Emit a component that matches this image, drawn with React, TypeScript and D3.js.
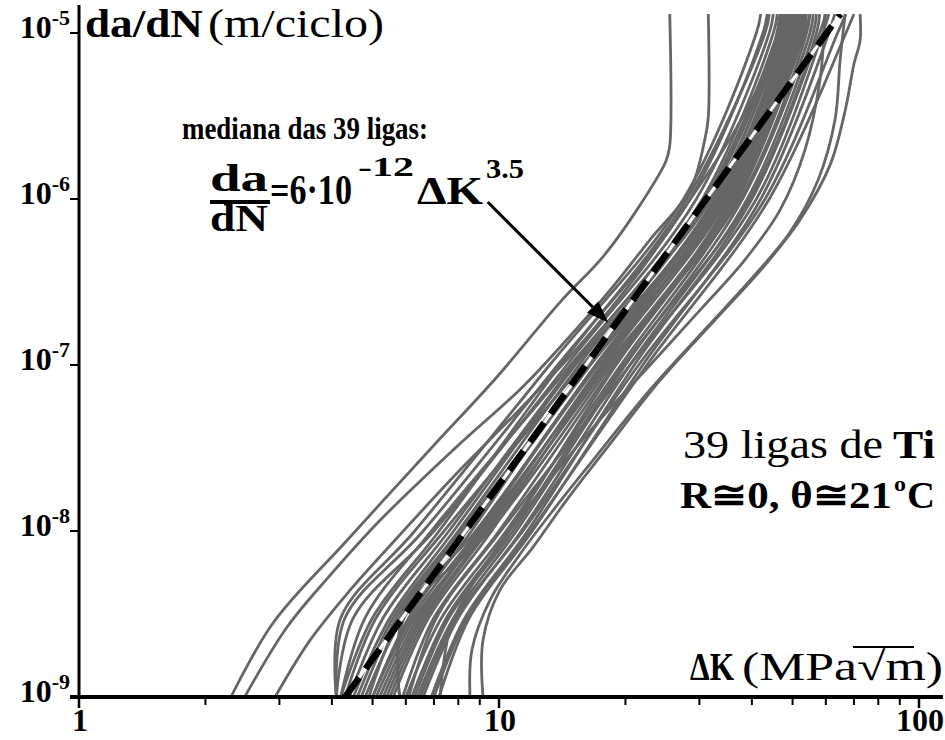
import * as d3 from 'd3'

const WIDTH = 945
const HEIGHT = 740

// crack growth rate levels (m/ciclo) at which the bundle curves were read
const rateLevels = [1e-9, 3e-9, 1e-8, 1e-7, 1e-6, 1e-5, 1.3e-5]

// ΔK (MPa√m) of each core alloy curve at the rate levels above
const coreCurves = [
  [4.1, 4.2, 6.3, 13.2, 27.5, 41, 42],
  [4.1, 4.3, 6.6, 13.8, 28.5, 42.5, 43.5],
  [4.1, 4.5, 7.0, 14.5, 29.5, 44, 45],
  [4.2, 5.0, 7.2, 14.0, 28.0, 43, 44],
  [4.4, 5.3, 7.6, 15.0, 30.5, 45, 46],
  [4.6, 5.6, 8.0, 15.5, 31, 46, 47],
  [4.8, 5.9, 8.4, 16.5, 33, 48, 49],
  [5.0, 6.1, 8.6, 16.0, 31.5, 47, 48],
  [5.2, 6.4, 9.0, 17.0, 33.5, 49, 50],
  [5.4, 6.6, 9.3, 17.5, 34, 50, 51],
  [5.6, 6.8, 9.6, 17.8, 35, 51, 52],
  [5.8, 5.9, 8.8, 17.2, 34.5, 50.5, 51.5],
  [5.8, 5.95, 9.5, 18.5, 36, 52, 53],
  [5.9, 7.0, 10.0, 18.8, 35.5, 51.5, 52.5],
  [6.0, 7.3, 10.4, 19.5, 37, 53, 54],
  [6.2, 7.5, 10.6, 19.0, 36.5, 53.5, 55],
  [6.4, 7.8, 11.0, 20.0, 38, 55, 56],
  [6.6, 8.0, 11.3, 20.5, 39, 56, 57],
  [6.9, 8.3, 11.7, 21.0, 40, 58, 60],
  [7.2, 8.5, 12.0, 22.0, 42, 61, 63],
  [4.5, 5.5, 7.8, 15.2, 32, 47.5, 48.5],
  [5.0, 6.2, 8.9, 17.0, 35, 52, 53],
  [5.3, 6.5, 9.1, 18.0, 37.5, 54, 55],
  [4.9, 5.8, 8.2, 16.5, 34, 49.5, 50.5],
  [4.3, 5.1, 7.4, 15.8, 33, 48.5, 49.5],
  [6.1, 7.1, 10.1, 20.5, 41, 59, 61],
  [6.5, 7.9, 11.4, 21.5, 43, 64, 67],
  [7.0, 8.4, 11.9, 22.5, 44, 67, 70],
  [4.2, 4.8, 6.9, 14.8, 31, 46.5, 47.5],
  [4.7, 5.7, 8.1, 16.2, 32.5, 47, 48],
  [5.5, 6.7, 9.4, 18.2, 36, 52.5, 53.5],
  [6.3, 7.6, 10.8, 19.8, 39.5, 57, 58],
  [5.1, 6.3, 9.2, 17.6, 34, 50, 51],
]

// outlying alloys, [ΔK, da/dN]
const leftCurveA = [
  [2.3, 1e-9], [2.9, 2.8e-9], [4.35, 8.8e-9], [6.85, 3.1e-8], [9.9, 8.5e-8], [14, 2.4e-7],
  [17.7, 4.5e-7], [21.3, 8.6e-7], [25, 1.7e-6], [25.5, 2.1e-6], [25.5, 1.3e-5],
]
const leftCurveB = [
  [2.48, 1e-9], [3.13, 2.64e-9], [3.96, 5.4e-9], [5.21, 1.16e-8], [7.77, 3.07e-8], [11.4, 7.4e-8],
  [14.5, 1.42e-7], [18.4, 2.83e-7], [22.9, 5.7e-7], [28.5, 1.13e-6], [30.9, 2.27e-6], [31.5, 3.1e-6],
  [31.5, 1.3e-5],
]
const leftCurveC = [
  [2.93, 1e-9], [3.55, 2.2e-9], [4.42, 4.4e-9], [5.81, 9.5e-9], [8.07, 2.33e-8], [11.2, 5.4e-8],
  [15.6, 1.32e-7], [21.7, 3.7e-7], [28.5, 9.9e-7], [36.5, 2.6e-6], [44.2, 6.9e-6], [46.7, 1.3e-5],
]
const rightCurve1 = [
  [9.16, 1e-9], [9.16, 2.2e-9], [10.05, 4.4e-9], [12.05, 8.0e-9], [14.5, 1.54e-8], [17.9, 3.07e-8],
  [24.2, 8.1e-8], [32.7, 1.87e-7], [43, 4.0e-7], [52.1, 7.5e-7], [61.4, 1.6e-6], [66.7, 3.4e-6],
  [70, 6.5e-6], [72.4, 9e-6], [72.4, 1.3e-5],
]
const rightCurve2 = [
  [8.53, 1e-9], [8.62, 1.92e-9], [9.52, 3.84e-9], [11.2, 7.2e-9], [13.6, 1.38e-8], [16.9, 2.75e-8],
  [22.9, 7.1e-8], [30.9, 1.63e-7], [40.7, 3.5e-7], [49.3, 6.3e-7], [57.5, 1.3e-6], [63.1, 3.0e-6],
  [64.9, 6.9e-6], [66.7, 1.3e-5],
]
const rightCurve3 = [
  [7.24, 1e-9], [7.64, 2.53e-9], [8.77, 5.07e-9], [10.6, 1.01e-8], [13.2, 2.03e-8], [17.4, 4.7e-8],
  [22.9, 1e-7], [30.1, 2.14e-7], [38.5, 4.3e-7], [46.7, 8.6e-7], [53.5, 1.97e-6], [58.1, 5.2e-6],
  [59.7, 1.3e-5],
]

// median of the 39 alloys, end points
const medianLine = [[4.3, 1e-9], [65, 1.3e-5]]

const xMajorTicks = [1, 10, 100]
const xMinorTicks = [2, 3, 4, 5, 6, 7, 8, 9, 20, 30, 40, 50, 60, 70, 80, 90]
const yTicks = [1e-9, 1e-8, 1e-7, 1e-6, 1e-5]

// arrow from the formula to the median line, [ΔK, da/dN]
const arrowTail = [9.4, 9.6e-7]
const arrowTip = [18.2, 1.8e-7]

const font = "'Liberation Serif', 'Times New Roman', serif"
const grey = '#666666'

export default function App() {
  const x = d3.scaleLog().domain([1, 100]).range([79, 919])
  const y = d3.scaleLog().domain([1e-9, 1e-5]).range([697, 33])

  const line = d3
    .line<number[]>()
    .x((d) => x(d[0]))
    .y((d) => y(d[1]))
    .curve(d3.curveCatmullRom.alpha(0.5))

  const straight = d3
    .line<number[]>()
    .x((d) => x(d[0]))
    .y((d) => y(d[1]))

  const allCurves = [
    ...coreCurves.map((ks) => ks.map((k, i) => [k, rateLevels[i]])),
    leftCurveA,
    leftCurveB,
    leftCurveC,
    rightCurve1,
    rightCurve2,
    rightCurve3,
  ]

  // arrow head
  const tx = x(arrowTail[0])
  const ty = y(arrowTail[1])
  const hx = x(arrowTip[0])
  const hy = y(arrowTip[1])
  const len = Math.hypot(hx - tx, hy - ty)
  const ux = (hx - tx) / len
  const uy = (hy - ty) / len
  const bx = hx - ux * 22
  const by = hy - uy * 22
  const head = `${hx},${hy} ${bx - uy * 8},${by + ux * 8} ${bx + uy * 8},${by - ux * 8}`

  return (
    <svg
      width={WIDTH}
      height={HEIGHT}
      style={{ position: 'absolute', left: 0, top: 0, background: '#fff' }}
      fontFamily={font}
    >
      <defs>
        <clipPath id="plot-clip">
          <rect x={79} y={14} width={862} height={683} />
        </clipPath>
      </defs>

      <g clipPath="url(#plot-clip)">
        {allCurves.map((c, i) => (
          <path key={i} d={line(c) || ''} fill="none" stroke={grey} strokeWidth={2.8} strokeLinejoin="round" />
        ))}
        <path d={straight(medianLine) || ''} fill="none" stroke="#fff" strokeWidth={3} />
        <path d={straight(medianLine) || ''} fill="none" stroke="#000" strokeWidth={6.5} strokeDasharray="24 11" />
      </g>

      {/* axes */}
      <line x1={79} x2={79} y1={5} y2={699} stroke="#000" strokeWidth={3} />
      <line x1={70} x2={943} y1={697} y2={697} stroke="#000" strokeWidth={4} />

      {yTicks.map((v) => (
        <g key={v}>
          <line x1={70} x2={79} y1={y(v)} y2={y(v)} stroke="#000" strokeWidth={2} />
          <text x={70} y={y(v) + 5} textAnchor="end" fontWeight="bold" fontSize={32}>
            10
            <tspan dy={-13} fontSize={22}>
              -{Math.round(-Math.log10(v))}
            </tspan>
          </text>
        </g>
      ))}

      {xMinorTicks.map((v) => (
        <line key={v} x1={x(v)} x2={x(v)} y1={697} y2={705} stroke="#000" strokeWidth={2} />
      ))}
      {xMajorTicks.map((v) => (
        <g key={v}>
          <line x1={x(v)} x2={x(v)} y1={697} y2={708} stroke="#000" strokeWidth={2.5} />
          <text x={x(v) + 1} y={731} textAnchor="middle" fontWeight="bold" fontSize={32}>
            {v}
          </text>
        </g>
      ))}

      {/* axis titles */}
      <text x={85} y={37} fontWeight="bold" fontSize={40} textLength={118} lengthAdjust="spacingAndGlyphs">
        da/dN
      </text>
      <text x={208} y={37} fontSize={40} textLength={176} lengthAdjust="spacingAndGlyphs">
        (m/ciclo)
      </text>

      <text x={690} y={680} fontWeight="bold" fontSize={40} textLength={44} lengthAdjust="spacingAndGlyphs">
        ΔK
      </text>
      <text x={742} y={680} fontSize={40} textLength={201} lengthAdjust="spacingAndGlyphs">
        (MPa√m)
      </text>
      <line x1={853} x2={914} y1={647} y2={647} stroke="#000" strokeWidth={2} />

      {/* median annotation */}
      <text x={182} y={139} fontWeight="bold" fontSize={31} textLength={246} lengthAdjust="spacingAndGlyphs">
        mediana das 39 ligas:
      </text>
      <text x={210} y={191} fontWeight="bold" fontSize={38} textLength={58} lengthAdjust="spacingAndGlyphs">
        da
      </text>
      <rect x={210} y={200} width={60} height={4} fill="#000" />
      <text x={210} y={231} fontWeight="bold" fontSize={38} textLength={58} lengthAdjust="spacingAndGlyphs">
        dN
      </text>
      <text x={270} y={204} fontWeight="bold" fontSize={42} textLength={82} lengthAdjust="spacingAndGlyphs">
        =6·10
      </text>
      <text x={358} y={176} fontWeight="bold" fontSize={28} textLength={56} lengthAdjust="spacingAndGlyphs">
        -12
      </text>
      <text x={417} y={204} fontWeight="bold" fontSize={40} textLength={66} lengthAdjust="spacingAndGlyphs">
        ΔK
      </text>
      <text x={486} y={178} fontWeight="bold" fontSize={27} textLength={38} lengthAdjust="spacingAndGlyphs">
        3.5
      </text>
      <line x1={tx} y1={ty} x2={bx} y2={by} stroke="#000" strokeWidth={3} />
      <polygon points={head} fill="#000" />

      {/* data set note */}
      <text x={683} y={458} fontSize={40} textLength={200} lengthAdjust="spacingAndGlyphs">
        39 ligas de
      </text>
      <text x={893} y={458} fontWeight="bold" fontSize={40} textLength={42} lengthAdjust="spacingAndGlyphs">
        Ti
      </text>
      <text x={680} y={508} fontWeight="bold" fontSize={38} textLength={212} lengthAdjust="spacingAndGlyphs">
        R≅0, θ≅21
      </text>
      <text x={894} y={491} fontWeight="bold" fontSize={22} textLength={12} lengthAdjust="spacingAndGlyphs">
        o
      </text>
      <text x={907} y={508} fontWeight="bold" fontSize={38} textLength={28} lengthAdjust="spacingAndGlyphs">
        C
      </text>
    </svg>
  )
}
